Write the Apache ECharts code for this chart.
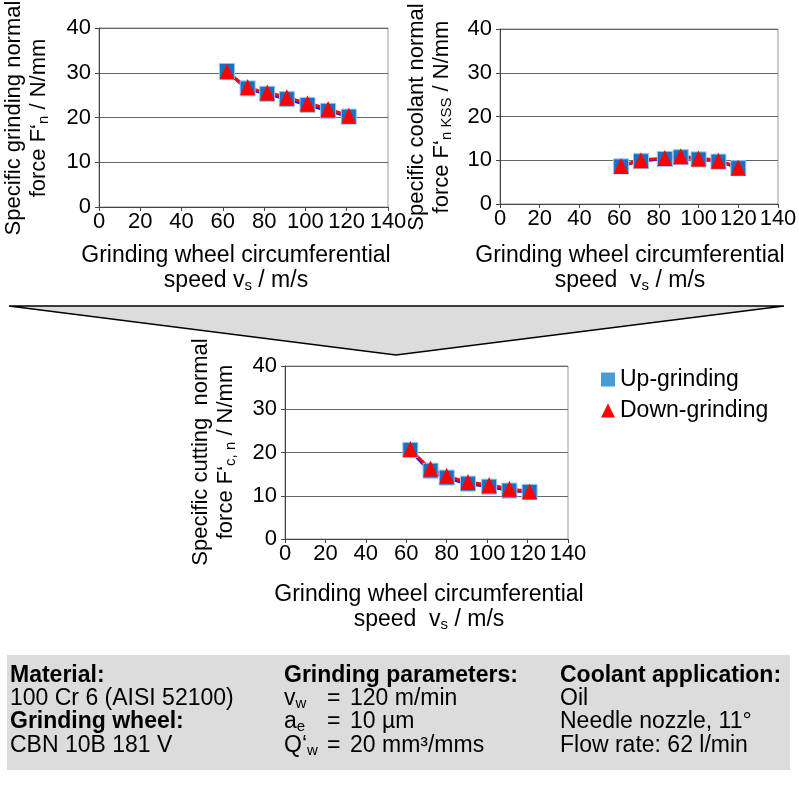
<!DOCTYPE html>
<html>
<head>
<meta charset="utf-8">
<script src="https://cdn.jsdelivr.net/npm/echarts@6/dist/echarts.min.js"></script>
<style>
  html, body { margin: 0; padding: 0; background: #fff; }
  #chart { width: 799px; height: 786px; }
</style>
</head>
<body>
<div id="chart"></div>
<script>
// grinding wheel speed (x) and forces (y) per chart
const speedGrinding = [62, 72, 81.5, 91, 101, 111, 121]
const upGrinding = [30.4, 26.5, 25.3, 24.1, 22.8, 21.5, 20.2]
const downGrinding = [30.3, 26.8, 25.6, 24.5, 23.2, 21.9, 20.4]

const speedCoolant = [61, 71, 83, 91, 100, 110, 120]
const upCoolant = [8.6, 9.8, 10.3, 10.7, 10.2, 9.7, 8.2]
const downCoolant = [8.7, 10.0, 10.5, 10.9, 10.4, 9.9, 8.3]

const speedCutting = [62, 72, 80, 90.5, 101, 111, 121]
const upCutting = [20.6, 15.8, 14.2, 12.8, 12.1, 11.2, 10.9]
const downCutting = [20.8, 16.3, 14.6, 13.2, 12.5, 11.6, 11.0]

const seriesNames = ['Up-grinding', 'Down-grinding']

const FONT = '"Liberation Sans", Arial, sans-serif'
const chart = echarts.init(document.getElementById('chart'))

const grids = [
  { left: 99, top: 28, width: 289, height: 179 },
  { left: 500, top: 29, width: 278, height: 175 },
  { left: 285, top: 366, width: 283, height: 173 }
]

function makeX(i) {
  return {
    type: 'value', gridIndex: i, min: 0, max: 140, interval: 20,
    axisLine: { show: true, onZero: false, lineStyle: { color: '#444', width: 1 } },
    axisTick: { show: true, length: 4, lineStyle: { color: '#444' } },
    axisLabel: { fontSize: 22, color: '#000', margin: 4, fontFamily: FONT },
    splitLine: { show: false }
  }
}

function makeY(i) {
  return {
    type: 'value', gridIndex: i, min: 0, max: 40, interval: 10,
    axisLine: { show: true, lineStyle: { color: '#444', width: 1 } },
    axisTick: { show: true, length: 4, lineStyle: { color: '#444' } },
    axisLabel: { fontSize: 22, color: '#000', margin: 8, fontFamily: FONT },
    splitLine: { show: true, lineStyle: { color: '#666', width: 1 } }
  }
}

function pairs(xs, ys) {
  return xs.map((x, k) => [x, ys[k]])
}

function upSeries(i, xs, ys) {
  return {
    name: seriesNames[0], type: 'line', xAxisIndex: i, yAxisIndex: i,
    data: pairs(xs, ys), smooth: 0.3,
    symbol: 'rect', symbolSize: 15,
    itemStyle: { color: '#1670c4', borderColor: '#9cc4ec', borderWidth: 1 },
    lineStyle: { color: '#1a1ae6', width: 3 },
    emphasis: { disabled: true }, animation: false
  }
}

function downSeries(i, xs, ys) {
  return {
    name: seriesNames[1], type: 'line', xAxisIndex: i, yAxisIndex: i,
    data: pairs(xs, ys), smooth: 0.3,
    symbol: 'triangle', symbolSize: [15, 16],
    itemStyle: { color: '#ff0000', borderWidth: 0 },
    lineStyle: { color: '#ff0000', width: 3 },
    emphasis: { disabled: true }, animation: false
  }
}

const rich = {
  sub: { fontSize: 15, lineHeight: 14, verticalAlign: 'bottom', fontFamily: FONT, fill: '#000' }
}

function label(x, y, text, opts) {
  opts = opts || {}
  return {
    type: 'text', x: x, y: y, rotation: opts.rotate ? Math.PI / 2 : 0,
    style: {
      text: text, x: 0, y: 0,
      fontSize: opts.size || 23, fontFamily: FONT,
      fontWeight: opts.bold ? 'bold' : 'normal',
      fill: '#000', lineHeight: opts.lh || 25,
      align: opts.align || 'center', verticalAlign: opts.va || 'middle',
      rich: rich
    },
    z: 10
  }
}

const graphic = [
  // arrow funnel between the rows
  {
    type: 'polygon',
    shape: { points: [[9, 306], [784, 306], [396, 355]] },
    style: { fill: '#dcdcdc', stroke: '#000', lineWidth: 1.5 }
  },
  // parameter box
  {
    type: 'rect',
    shape: { x: 7, y: 655, width: 783, height: 115 },
    style: { fill: '#dcdcdc' }
  },
  // y axis titles
  label(26, 118, 'Specific grinding normal\nforce F‘{sub|n} / N/mm', { rotate: true, size: 22 }),
  label(429, 117, 'Specific coolant normal\nforce F‘{sub|n KSS} / N/mm', { rotate: true, size: 22 }),
  label(213, 452, 'Specific cutting  normal\nforce F‘{sub|c, n} / N/mm', { rotate: true, size: 22 }),
  // x axis titles
  label(236, 268, 'Grinding wheel circumferential\nspeed v{sub|s} / m/s'),
  label(630, 268, 'Grinding wheel circumferential\nspeed  v{sub|s} / m/s'),
  label(429, 607, 'Grinding wheel circumferential\nspeed  v{sub|s} / m/s'),
  // parameter text
  label(10, 676, 'Material:', { align: 'left', bold: true }),
  label(10, 699, '100 Cr 6 (AISI 52100)', { align: 'left' }),
  label(10, 722, 'Grinding wheel:', { align: 'left', bold: true }),
  label(10, 746, 'CBN 10B 181 V', { align: 'left' }),
  label(284, 676, 'Grinding parameters:', { align: 'left', bold: true }),
  label(284, 699, 'v{sub|w}', { align: 'left' }),
  label(284, 722, 'a{sub|e}', { align: 'left' }),
  label(284, 746, 'Q‘{sub|w}', { align: 'left' }),
  label(327, 699, '=', { align: 'left' }),
  label(327, 722, '=', { align: 'left' }),
  label(327, 746, '=', { align: 'left' }),
  label(350, 699, '120 m/min', { align: 'left' }),
  label(350, 722, '10 µm', { align: 'left' }),
  label(350, 746, '20 mm³/mms', { align: 'left' }),
  label(560, 676, 'Coolant application:', { align: 'left', bold: true }),
  label(560, 699, 'Oil', { align: 'left' }),
  label(560, 722, 'Needle nozzle, 11°', { align: 'left' }),
  label(560, 746, 'Flow rate: 62 l/min', { align: 'left' })
]

chart.setOption({
  backgroundColor: '#fff',
  animation: false,
  grid: grids.map(g => Object.assign({
    show: true, borderColor: '#999', borderWidth: 1,
    backgroundColor: 'transparent', containLabel: false, outerBoundsMode: 'none'
  }, g)),
  xAxis: [makeX(0), makeX(1), makeX(2)],
  yAxis: [makeY(0), makeY(1), makeY(2)],
  legend: {
    orient: 'vertical', left: 596, top: 363,
    itemWidth: 14, itemHeight: 14, itemGap: 8,
    selectedMode: false,
    textStyle: { fontSize: 23, fontFamily: FONT, color: '#000', lineHeight: 23 },
    data: [
      { name: seriesNames[0], icon: 'rect', itemStyle: { color: '#4a9bd1', borderWidth: 0 } },
      { name: seriesNames[1], icon: 'triangle', itemStyle: { color: '#ff0000', borderWidth: 0 } }
    ]
  },
  series: [
    upSeries(0, speedGrinding, upGrinding),
    downSeries(0, speedGrinding, downGrinding),
    upSeries(1, speedCoolant, upCoolant),
    downSeries(1, speedCoolant, downCoolant),
    upSeries(2, speedCutting, upCutting),
    downSeries(2, speedCutting, downCutting)
  ],
  graphic: graphic
})
</script>
</body>
</html>
